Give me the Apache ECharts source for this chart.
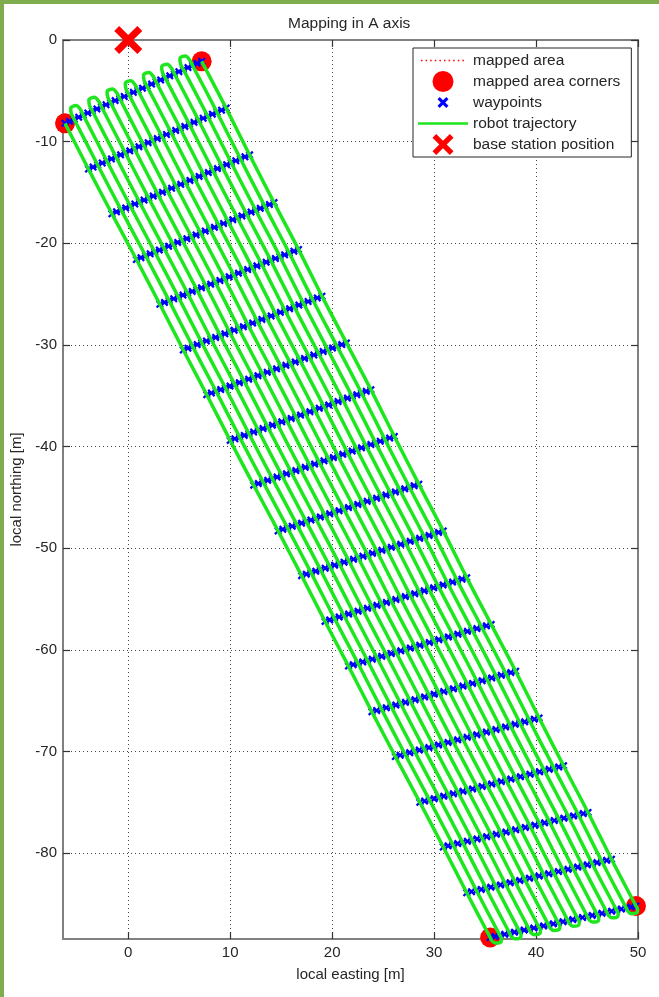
<!DOCTYPE html>
<html><head><meta charset="utf-8">
<script src="https://cdn.jsdelivr.net/npm/echarts@6/dist/echarts.min.js"></script>
<style>html,body{margin:0;padding:0;background:#fff;}#c{width:659px;height:997px;}</style>
</head><body><div id="c"></div>
<script>
// ---- data ----
const xTickValues = [0, 10, 20, 30, 40, 50];
const yTickValues = [0, -10, -20, -30, -40, -50, -60, -70, -80];
const xRange = [-6.4, 50];
const yRange = [-88.45, 0];
// mapped area corners: top-left, top-right, bottom-right, bottom-left
const areaCorners = [[-6.2, -8.2], [7.2, -2.1], [49.8, -85.2], [35.5, -88.3]];
const baseStation = [[0, 0]];
// left and right ends of each waypoint row (top row to bottom row)
const rowLeftEnds = [[-6.2,-8.2],[-3.9,-12.7],[-1.6,-17.1],[0.8,-21.6],[3.1,-26.0],[5.4,-30.5],[7.7,-34.9],[10.0,-39.4],[12.3,-43.8],[14.7,-48.3],[17.0,-52.7],[19.3,-57.2],[21.6,-61.6],[23.9,-66.1],[26.2,-70.5],[28.6,-75.0],[30.9,-79.4],[33.2,-83.9],[35.5,-88.3]];
const rowRightEnds = [[7.2,-2.1],[9.6,-6.7],[11.9,-11.3],[14.3,-16.0],[16.7,-20.6],[19.0,-25.2],[21.4,-29.8],[23.8,-34.4],[26.1,-39.0],[28.5,-43.7],[30.9,-48.3],[33.2,-52.9],[35.6,-57.5],[38.0,-62.1],[40.3,-66.7],[42.7,-71.4],[45.1,-76.0],[47.4,-80.6],[49.8,-85.2]];
const laneCount = 16;          // trajectory lanes across the area
const waypointsPerLane = 2;    // waypoint marks per lane in each row
const turnDepthTop = 1.2;      // metres the U-turn reaches past the top row
const turnDepthBottom = 0.7;   // metres the U-turn reaches past the bottom row

// ---- build series data ----
function rowPoint(r, t) {
  const L = rowLeftEnds[r], R = rowRightEnds[r];
  return [L[0] + (R[0] - L[0]) * t, L[1] + (R[1] - L[1]) * t];
}
const nRows = rowLeftEnds.length;
const waypoints = [];
const nMarks = (laneCount - 1) * waypointsPerLane;
for (let r = 0; r < nRows; r++) {
  for (let k = 0; k <= nMarks; k++) waypoints.push(rowPoint(r, k / nMarks));
}
const trajectory = [];
for (let j = 0; j < laneCount; j++) {
  const t = j / (laneCount - 1);
  const down = j % 2 === 0;
  for (let k = 0; k < nRows; k++) trajectory.push(rowPoint(down ? k : nRows - 1 - k, t));
  if (j < laneCount - 1) {
    const rEnd = down ? nRows - 1 : 0, rPrev = down ? nRows - 2 : 1;
    const t2 = (j + 1) / (laneCount - 1);
    const e1 = rowPoint(rEnd, t), e2 = rowPoint(rEnd, t2), p = rowPoint(rPrev, t);
    let dx = e1[0] - p[0], dy = e1[1] - p[1];
    const len = Math.hypot(dx, dy); dx /= len; dy /= len;
    const d = down ? turnDepthBottom : turnDepthTop;
    const ax = e2[0] - e1[0], ay = e2[1] - e1[1];
    trajectory.push([e1[0] + dx * d * 0.5, e1[1] + dy * d * 0.5]);
    trajectory.push([e1[0] + ax * 0.2 + dx * d * 0.95, e1[1] + ay * 0.2 + dy * d * 0.95]);
    trajectory.push([e1[0] + ax * 0.8 + dx * d * 0.95, e1[1] + ay * 0.8 + dy * d * 0.95]);
    trajectory.push([e2[0] + dx * d * 0.5, e2[1] + dy * d * 0.5]);
  }
}
const areaOutline = areaCorners.concat([areaCorners[0]]);

// ---- styles ----
const FONT = "'Liberation Sans', Arial, sans-serif";
const TXT = '#262626';
const X_BIG = 'path://M0 1.75L1.75 0L5 3.25L8.25 0L10 1.75L6.75 5L10 8.25L8.25 10L5 6.75L1.75 10L0 8.25L3.25 5Z';
const X_SMALL = 'path://M0 2L2 0L5 3L8 0L10 2L7 5L10 8L8 10L5 7L2 10L0 8L3 5Z';
let dots = 'path://M0 0M50 21';
for (let k = 0; k < 10; k++) { const x = (3 + 4.6 * k).toFixed(1); dots += 'M' + x + ' 9.7h1.5v1.6h-1.5z'; }
const legendWay = 'path://M0 0M50 21M19.5 7.2L21.7 5L25 8.3L28.3 5L30.5 7.2L27.2 10.5L30.5 13.8L28.3 16L25 12.7L21.7 16L19.5 13.8L22.8 10.5Z';
const legendLine = 'path://M0 0M50 21M0 9.25h50v2.5h-50z';
const GREEN = 'rgb(30,230,30)';

function axisCommon(extra) {
  return Object.assign({
    type: 'value',
    axisLine: { show: true, onZero: false, lineStyle: { color: '#808080', width: 2 } },
    axisTick: { show: true, inside: true, length: 7, lineStyle: { color: '#333', width: 1.2 } },
    splitLine: { show: false },
    axisLabel: { show: false }
  }, extra);
}

const chart = echarts.init(document.getElementById('c'), null, { renderer: 'canvas' });
chart.setOption({
  animation: false,
  backgroundColor: '#ffffff',
  title: {
    text: 'Mapping in A axis', left: 288, top: 16, padding: 0,
    textStyle: { fontFamily: FONT, fontSize: 15.5, fontWeight: 'normal', color: TXT }
  },
  graphic: [
    { type: 'rect', shape: { x: 0, y: 0, width: 659, height: 4 }, style: { fill: '#7fac4f' }, silent: true },
    { type: 'rect', shape: { x: 0, y: 0, width: 4, height: 997 }, style: { fill: '#7fac4f' }, silent: true }
  ],
  grid: { left: 63, right: 21, top: 40, bottom: 58, containLabel: false },
  xAxis: [
    axisCommon({
      position: 'bottom', min: xRange[0], max: xRange[1],
      axisTick: { show: true, inside: true, length: 7, customValues: xTickValues, lineStyle: { color: '#333', width: 1.2 } },
      axisLabel: { show: true, customValues: xTickValues, margin: 6, color: TXT, fontFamily: FONT, fontSize: 15 },
      splitLine: { show: true, lineStyle: { color: '#444', width: 1, type: [1, 3] } },
      name: 'local easting [m]', nameLocation: 'middle', nameGap: 28,
      nameTextStyle: { fontFamily: FONT, fontSize: 15, color: TXT }
    }),
    axisCommon({
      position: 'top', min: xRange[0], max: xRange[1],
      axisTick: { show: true, inside: true, length: 7, customValues: xTickValues, lineStyle: { color: '#333', width: 1.2 } }
    })
  ],
  yAxis: [
    axisCommon({
      position: 'left', min: yRange[0], max: yRange[1],
      axisTick: { show: true, inside: true, length: 7, customValues: yTickValues, lineStyle: { color: '#333', width: 1.2 } },
      axisLabel: { show: true, customValues: yTickValues, margin: 6, color: TXT, fontFamily: FONT, fontSize: 15 },
      splitLine: { show: true, lineStyle: { color: '#444', width: 1, type: [1, 3] } },
      name: 'local northing [m]', nameLocation: 'middle', nameGap: 31, nameRotate: 90,
      nameTextStyle: { fontFamily: FONT, fontSize: 15, color: TXT }
    }),
    axisCommon({
      position: 'right', min: yRange[0], max: yRange[1],
      axisTick: { show: true, inside: true, length: 7, customValues: yTickValues, lineStyle: { color: '#333', width: 1.2 } }
    })
  ],
  legend: {
    orient: 'vertical', left: 413, top: 48,
    itemWidth: 50, itemHeight: 21, itemGap: 0,
    padding: [2, 11, 2, 5],
    borderColor: '#262626', borderWidth: 1, backgroundColor: '#ffffff',
    selectedMode: false, symbolKeepAspect: true,
    textStyle: { fontFamily: FONT, fontSize: 15.5, color: TXT },
    data: [
      { name: 'mapped area', icon: dots, itemStyle: { color: '#ff0000', borderWidth: 0 } },
      { name: 'mapped area corners', icon: 'circle', itemStyle: { color: '#ff0000', borderWidth: 0 } },
      { name: 'waypoints', icon: legendWay, itemStyle: { color: '#0000ff', borderWidth: 0 } },
      { name: 'robot trajectory', icon: legendLine, itemStyle: { color: GREEN, borderWidth: 0 } },
      { name: 'base station position', icon: X_BIG, itemStyle: { color: '#ff0000', borderWidth: 0 } }
    ]
  },
  series: [
    {
      name: 'mapped area', type: 'line', data: areaOutline, symbol: 'none', clip: false, z: 2,
      itemStyle: { color: '#ff0000' },
      lineStyle: { color: '#ff0000', width: 1.5, type: [2, 3] }
    },
    {
      name: 'mapped area corners', type: 'scatter', data: areaCorners, symbol: 'circle', symbolSize: 20,
      clip: false, z: 3, itemStyle: { color: '#ff0000', opacity: 1 }
    },
    {
      name: 'waypoints', type: 'scatter', data: waypoints, symbol: X_SMALL, symbolSize: 8,
      clip: false, z: 4, itemStyle: { color: '#0000ff', opacity: 1 }
    },
    {
      name: 'robot trajectory', type: 'line', data: trajectory, symbol: 'none', smooth: 0.35, clip: false, z: 5,
      itemStyle: { color: GREEN },
      lineStyle: { color: GREEN, width: 3.5 }
    },
    {
      name: 'base station position', type: 'scatter', data: baseStation, symbol: X_BIG, symbolSize: 28,
      clip: false, z: 6, itemStyle: { color: '#ff0000', opacity: 1 }
    }
  ]
});
</script>
</body></html>
